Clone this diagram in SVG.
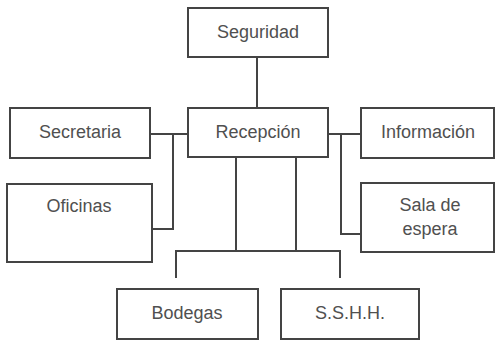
<svg xmlns="http://www.w3.org/2000/svg" width="497" height="342" viewBox="0 0 497 342">
<style>
.box{fill:#fff;stroke:#444;stroke-width:2}
.lbl{font-family:"Liberation Sans",Arial,sans-serif;font-size:18px;fill:#505050;text-anchor:middle}
.con{fill:none;stroke:#444;stroke-width:2}
</style>
<rect width="497" height="342" fill="#fff"/>
<g id="connectors">
<path class="con" d="M257,57 V108"/>
<path class="con" d="M150,134 H188"/>
<path class="con" d="M173,134 V229 H152"/>
<path class="con" d="M328,134 H361"/>
<path class="con" d="M341,134 V234 H361"/>
<path class="con" d="M236,157 V251"/>
<path class="con" d="M296,157 V251"/>
<path class="con" d="M176,278 V251 H340 V278"/>
</g>
<g id="seguridad"><rect class="box" x="188" y="8" width="140" height="49"/><text class="lbl" x="258" y="38">Seguridad</text></g>
<g id="secretaria"><rect class="box" x="10" y="108" width="140" height="50"/><text class="lbl" x="80" y="138">Secretaria</text></g>
<g id="recepcion"><rect class="box" x="188" y="108" width="140" height="49"/><text class="lbl" x="258" y="138">Recepción</text></g>
<g id="informacion"><rect class="box" x="361" y="108" width="133" height="50"/><text class="lbl" x="428" y="138">Información</text></g>
<g id="oficinas"><rect class="box" x="7" y="184" width="145" height="78"/><text class="lbl" x="79" y="212">Oficinas</text></g>
<g id="sala"><rect class="box" x="361" y="183" width="133" height="69"/><text class="lbl" x="430" y="211">Sala de</text><text class="lbl" x="430" y="235">espera</text></g>
<g id="bodegas"><rect class="box" x="117" y="289" width="141" height="50"/><text class="lbl" x="187" y="319">Bodegas</text></g>
<g id="sshh"><rect class="box" x="281" y="289" width="138" height="50"/><text class="lbl" x="350" y="319">S.S.H.H.</text></g>
</svg>
